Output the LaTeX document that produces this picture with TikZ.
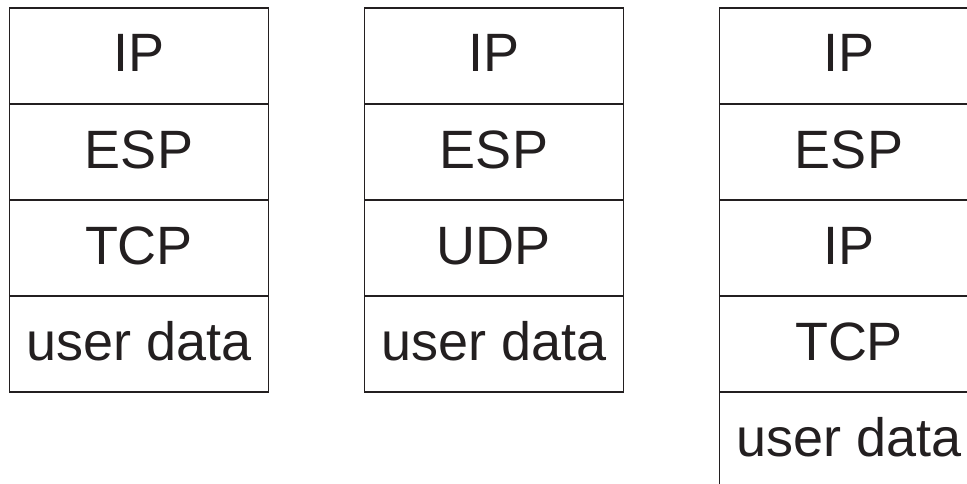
\documentclass[tikz,border=0pt]{standalone}
\usepackage{fontspec}
\setmainfont{Liberation Sans}
\definecolor{ink}{HTML}{231F20}
\begin{document}
\begin{tikzpicture}[x=1pt,y=-1pt,
  cell/.style={draw=ink,line width=1.3pt,minimum width=259pt,minimum height=96pt,
    inner sep=0pt,outer sep=0pt,anchor=north west},
  lbl/.style={anchor=base,inner sep=0pt,text=ink,font=\fontsize{54}{60}\selectfont}]
\useasboundingbox (0,0) rectangle (967,484);
\clip (0,0) rectangle (967,484);
% protocol stacks: header cells from top to bottom
\foreach \col/\x/\items in {a/9.5/{IP,ESP,TCP,user data},
                            b/364.5/{IP,ESP,UDP,user data},
                            c/719.5/{IP,ESP,IP,TCP,user data}}{
  \foreach \t [count=\i from 0] in \items {
    \node[cell] (\col\i) at (\x,8+96*\i) {};
    \node[lbl] (\col\i t) at ([yshift=-64pt]\col\i.north) {\t};
  }
}
\end{tikzpicture}
\end{document}
